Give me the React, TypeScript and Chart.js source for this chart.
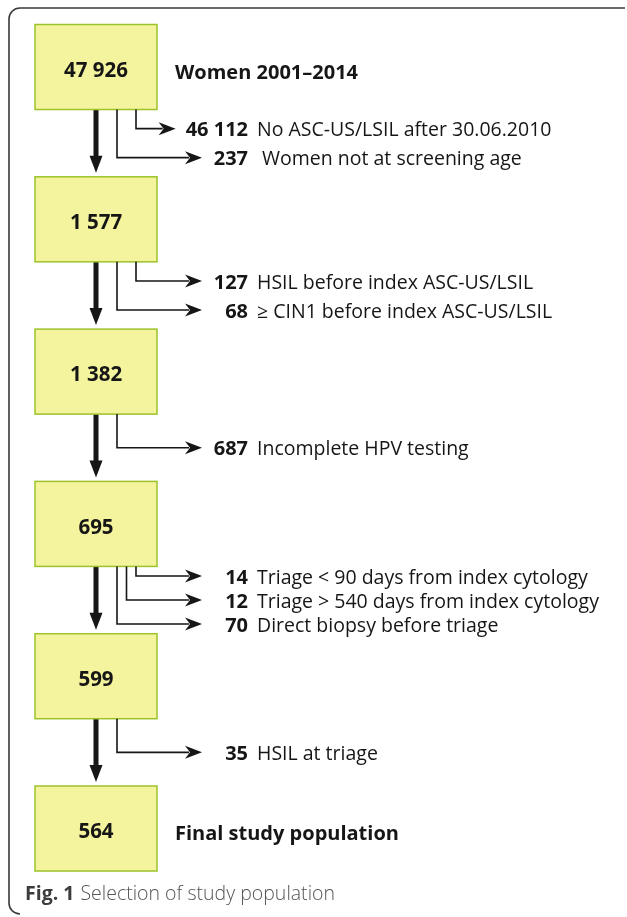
import { useEffect, useRef } from 'react';
import { Chart, registerables } from 'chart.js';

Chart.register(...registerables);

// ---- data ----
const stageCounts = [47926, 1577, 1382, 695, 599, 564];
const stageNotes = ['Women 2001–2014', '', '', '', '', 'Final study population'];
const exclusionStage = [0, 0, 1, 1, 2, 3, 3, 3, 4];
const exclusionCounts = [46112, 237, 127, 68, 687, 14, 12, 70, 35];
const exclusionLabels = [
  'No ASC-US/LSIL after 30.06.2010',
  ' Women not at screening age',
  'HSIL before index ASC-US/LSIL',
  '≥ CIN1 before index ASC-US/LSIL',
  'Incomplete HPV testing',
  'Triage < 90 days from index cytology',
  'Triage > 540 days from index cytology',
  'Direct biopsy before triage',
  'HSIL at triage',
];
const captionBold = 'Fig. 1';
const captionText = 'Selection of study population';

// ---- layout / style ----
const W = 627;
const H = 917;
const BOX_CX = 96;
const BOX_W = 122;
const BOX_H = 85;
const FONT = '"Open Sans", "Noto Sans", sans-serif';
const NUM_RIGHT = 248;
const LABEL_LEFT = 257;
const NOTE_LEFT = 175;
const TIP_MAX = 202;

const fmt = (n: number) => String(n).replace(/\B(?=(\d{3})+(?!\d))/g, ' ');

function smallArrowHead(ctx: CanvasRenderingContext2D, tx: number, y: number) {
  ctx.beginPath();
  ctx.moveTo(tx, y);
  ctx.lineTo(tx - 17, y - 6.5);
  ctx.lineTo(tx - 12, y);
  ctx.lineTo(tx - 17, y + 6.5);
  ctx.closePath();
  ctx.fill();
}

const flowPlugin = {
  id: 'flow',
  beforeDraw(chart: any) {
    const ctx = chart.ctx as CanvasRenderingContext2D;
    ctx.save();
    ctx.fillStyle = '#ffffff';
    ctx.fillRect(0, 0, chart.width, chart.height);
    ctx.restore();
  },
  afterDatasetsDraw(chart: any) {
    const ctx = chart.ctx as CanvasRenderingContext2D;
    const meta = chart.getDatasetMeta(0);
    const xs = chart.scales.x;
    const centers: number[] = meta.data.map((p: any) => p.y);
    const cx: number = meta.data.length ? meta.data[0].x : xs.getPixelForValue(BOX_CX);
    const left = cx - BOX_W / 2;
    const ink = '#161616';

    ctx.save();
    // frame
    ctx.strokeStyle = '#3a3a3a';
    ctx.lineWidth = 1.6;
    const fl = 9, ft = 8, fb = 914, r = 11;
    ctx.beginPath();
    ctx.moveTo(625, ft);
    ctx.lineTo(fl + r, ft);
    ctx.arcTo(fl, ft, fl, ft + r, r);
    ctx.lineTo(fl, fb - r);
    ctx.arcTo(fl, fb, fl + r, fb, r);
    ctx.stroke();

    // main arrows
    for (let i = 0; i < centers.length - 1; i++) {
      const y0 = centers[i] + BOX_H / 2;
      const y1 = centers[i + 1] - BOX_H / 2 - 4;
      ctx.fillStyle = ink;
      ctx.fillRect(cx - 2.5, y0, 5, y1 - y0 - 14);
      ctx.beginPath();
      ctx.moveTo(cx, y1);
      ctx.lineTo(cx - 6.5, y1 - 17);
      ctx.lineTo(cx + 6.5, y1 - 17);
      ctx.closePath();
      ctx.fill();
    }

    // boxes
    centers.forEach((cy, i) => {
      ctx.fillStyle = '#f4f49e';
      ctx.fillRect(left, cy - BOX_H / 2, BOX_W, BOX_H);
      ctx.strokeStyle = '#9dc22a';
      ctx.lineWidth = 1.5;
      ctx.strokeRect(left, cy - BOX_H / 2, BOX_W, BOX_H);
      ctx.fillStyle = ink;
      ctx.font = `bold 20.5px ${FONT}`;
      ctx.textAlign = 'center';
      ctx.textBaseline = 'middle';
      ctx.fillText(fmt(stageCounts[i]), cx, cy + 4);
      if (stageNotes[i]) {
        ctx.textAlign = 'left';
        ctx.font = `bold 20px ${FONT}`;
        ctx.fillText(stageNotes[i], NOTE_LEFT, cy + 6);
      }
    });

    // exclusions
    for (let s = 0; s < centers.length; s++) {
      const idx = exclusionStage.map((st, k) => (st === s ? k : -1)).filter((k) => k >= 0);
      if (!idx.length) continue;
      const bottom = centers[s] + BOX_H / 2;
      const nextTop = s + 1 < centers.length ? centers[s + 1] - BOX_H / 2 : bottom + 68;
      const mid = (bottom + nextTop) / 2;
      const n = idx.length;
      const spacing = n >= 3 ? 24 : 29;
      idx.forEach((k, j) => {
        const y = mid + (j - (n - 1) / 2) * spacing;
        const vx = n === 1 ? left + 82 : left + 101 - (19 * j) / (n - 1);
        ctx.font = `bold 20px ${FONT}`;
        const numTxt = fmt(exclusionCounts[k]);
        const numW = ctx.measureText(numTxt).width;
        const tip = Math.min(NUM_RIGHT - numW - 10, TIP_MAX);
        ctx.strokeStyle = ink;
        ctx.lineWidth = 1.6;
        ctx.beginPath();
        ctx.moveTo(vx, bottom);
        ctx.lineTo(vx, y);
        ctx.lineTo(tip - 13, y);
        ctx.stroke();
        ctx.fillStyle = ink;
        smallArrowHead(ctx, tip, y);
        ctx.textBaseline = 'middle';
        ctx.textAlign = 'right';
        ctx.fillText(numTxt, NUM_RIGHT, y + 2);
        ctx.textAlign = 'left';
        ctx.font = `19.5px ${FONT}`;
        ctx.fillText(exclusionLabels[k], LABEL_LEFT, y + 2);
      });
    }

    // caption
    ctx.textBaseline = 'alphabetic';
    ctx.textAlign = 'left';
    ctx.fillStyle = '#3c3c3c';
    ctx.font = `bold 19.5px ${FONT}`;
    ctx.fillText(captionBold, 25, 900);
    const bw = ctx.measureText(captionBold).width;
    ctx.fillStyle = '#555555';
    ctx.font = `300 19.5px ${FONT}`;
    ctx.fillText(captionText, 25 + bw + 6, 900);
    ctx.restore();
  },
};

export default function App() {
  const ref = useRef<HTMLCanvasElement>(null);
  useEffect(() => {
    document.body.style.margin = '0';
    document.body.style.overflow = 'hidden';
    const chart = new Chart(ref.current as HTMLCanvasElement, {
      type: 'scatter',
      data: {
        datasets: [
          {
            data: stageCounts.map((_, i) => ({ x: BOX_CX, y: i })),
            pointRadius: 0,
            pointHoverRadius: 0,
          },
        ],
      },
      options: {
        animation: false,
        responsive: false,
        maintainAspectRatio: false,
        events: [],
        layout: { padding: 0 },
        plugins: { legend: { display: false }, tooltip: { enabled: false } },
        scales: {
          x: { type: 'linear', display: false, min: 0, max: W },
          y: { type: 'linear', display: false, min: -0.44, max: 5.581, reverse: true },
        },
      },
      plugins: [flowPlugin],
    } as any);
    return () => chart.destroy();
  }, []);
  return (
    <div style={{ width: W, height: H }}>
      <canvas ref={ref} width={W} height={H} style={{ display: 'block', width: W, height: H }} />
    </div>
  );
}
